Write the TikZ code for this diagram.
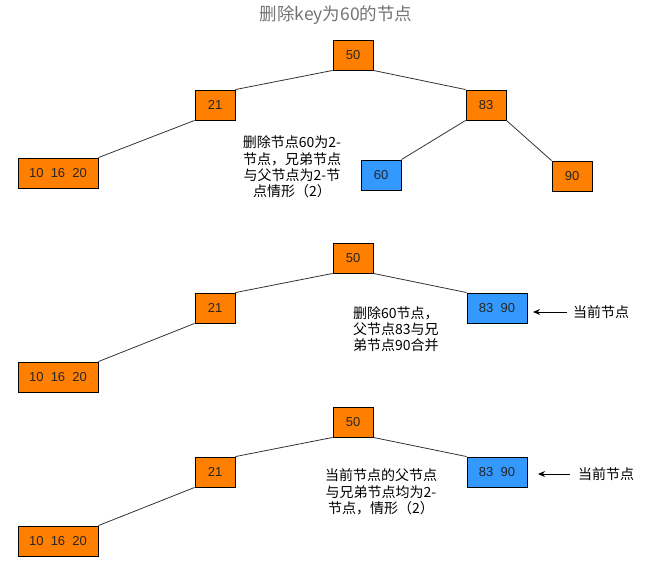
\documentclass[tikz,border=0pt]{standalone}
\usepackage{fontspec}
\setmainfont{Liberation Sans}
\newfontfamily\cjk{Noto Sans CJK SC}
\usetikzlibrary{arrows.meta}
\definecolor{orn}{HTML}{FF8000}
\definecolor{blu}{HTML}{3399FF}
\begin{document}
\begin{tikzpicture}[x=1pt,y=-1pt,
  box/.style={draw=black,line width=0.9pt,minimum height=30pt,inner sep=0pt,font=\fontsize{13}{15}\selectfont,text=black!85},
  ob/.style={box,fill=orn,minimum width=40pt},
  ow/.style={box,fill=orn,minimum width=80pt},
  bb/.style={box,fill=blu,minimum width=40pt},
  bw/.style={box,fill=blu,minimum width=60pt},
  edge/.style={draw=black!80,line width=0.8pt},
  note/.style={font=\cjk\fontsize{14}{16.3}\selectfont,inner sep=0pt},
  ptr/.style={draw=black,line width=0.8pt,-{Stealth[length=7pt,width=6pt]}}]
\useasboundingbox (0,0) rectangle (652,560);
\node[font=\cjk\fontsize{17.5}{19}\selectfont,text=black!55] (title) at (336,15) {删除key为60的节点};
% tree 1
\node[ob] (a50) at (353,55) {50};
\node[ob] (a21) at (215,105) {21};
\node[ob] (a83) at (486,105) {83};
\node[ow] (a10) at (58,173) {10\ \ 16\ \ 20};
\node[bb] (a60) at (381,175) {60};
\node[ob] (a90) at (572,176) {90};
\draw[edge] (a50.south west) -- (a21.north east);
\draw[edge] (a50.south east) -- (a83.north west);
\draw[edge] (a21.south west) -- (a10.north east);
\draw[edge] (a83.south west) -- (a60.north east);
\draw[edge] (a83.south east) -- (a90.north west);
\node[note,align=center] (t1) at (292,167) {删除节点60为2-\\节点，兄弟节点\\与父节点为2-节\\点情形（2）};
% tree 2
\node[ob] (b50) at (353,258) {50};
\node[ob] (b21) at (215,308) {21};
\node[ow] (b10) at (58,377) {10\ \ 16\ \ 20};
\node[bw] (b83) at (497,308) {83\ \ 90};
\draw[edge] (b50.south west) -- (b21.north east);
\draw[edge] (b50.south east) -- (b83.north west);
\draw[edge] (b21.south west) -- (b10.north east);
\node[note,align=left,anchor=west] (t2) at (353,329) {删除60节点，\\父节点83与兄\\弟节点90合并};
\node[note,anchor=west] (c2) at (573,312) {当前节点};
\coordinate (p2) at (533,312);
\draw[ptr] (c2.west) ++(-6,0) -- (p2);
% tree 3
\node[ob] (c50) at (353,422) {50};
\node[ob] (c21) at (215,472) {21};
\node[ow] (c10) at (58,541) {10\ \ 16\ \ 20};
\node[bw] (c83) at (497,472) {83\ \ 90};
\draw[edge] (c50.south west) -- (c21.north east);
\draw[edge] (c50.south east) -- (c83.north west);
\draw[edge] (c21.south west) -- (c10.north east);
\node[note,align=center] (t3) at (381,492) {当前节点的父节点\\与兄弟节点均为2-\\节点，情形（2）};
\node[note,anchor=west] (c3) at (578,474) {当前节点};
\coordinate (p3) at (538,474);
\draw[ptr] (c3.west) ++(-8,0) -- (p3);
\end{tikzpicture}
\end{document}
